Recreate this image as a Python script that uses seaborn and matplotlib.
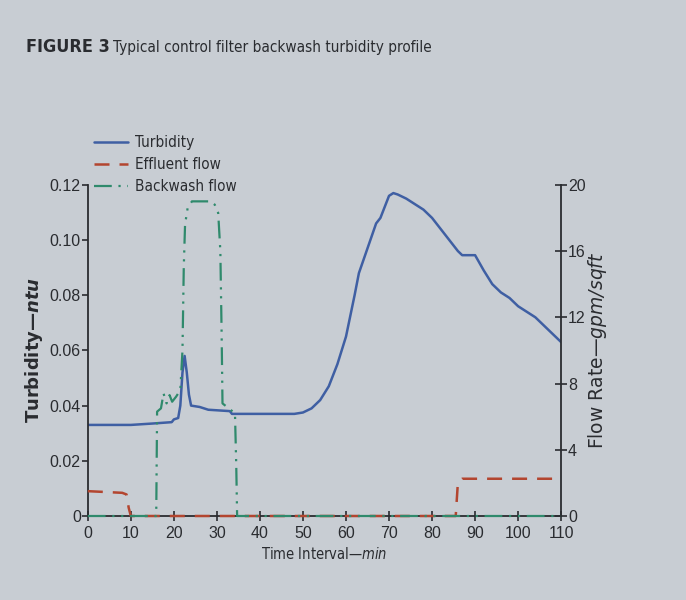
import matplotlib
matplotlib.use("Agg")
import matplotlib.pyplot as plt
import seaborn as sns
import pandas as pd
from matplotlib.lines import Line2D

# turbidity (ntu)
turb_time = [0, 5, 10, 15, 19.5, 20, 21, 21.5, 22, 22.5, 23, 23.5, 24, 26, 27, 28, 33, 33.5,
             40, 48, 50, 52, 54, 56, 58, 60, 62, 63, 65, 67, 68, 69, 70, 71, 72, 74, 76, 78,
             80, 82, 84, 86, 87, 90, 92, 94, 96, 98, 100, 102, 104, 106, 108, 110]
turb_ntu = [0.033, 0.033, 0.033, 0.0335, 0.034, 0.035, 0.0355, 0.040, 0.052, 0.058, 0.052,
            0.044, 0.040, 0.0395, 0.039, 0.0385, 0.038, 0.037, 0.037, 0.037, 0.0375, 0.039,
            0.042, 0.047, 0.055, 0.065, 0.080, 0.088, 0.097, 0.106, 0.108, 0.112, 0.116, 0.117,
            0.1165, 0.115, 0.113, 0.111, 0.108, 0.104, 0.100, 0.096, 0.0945, 0.0945, 0.089,
            0.084, 0.081, 0.079, 0.076, 0.074, 0.072, 0.069, 0.066, 0.063]

# effluent flow (gpm/sqft)
eff_time = [0, 8, 9, 9.5, 10, 85.5, 86, 87, 110]
eff_flow = [1.5, 1.4, 1.3, 0.5, 0, 0, 2.0, 2.25, 2.25]

# backwash flow (gpm/sqft)
bw_time = [0, 15.9, 16.1, 17, 17.6, 18.3, 19, 19.6, 20.5, 21.5, 22, 22.3, 22.6, 23.2, 24.2,
           28.5, 29.5, 30.3, 30.8, 31.1, 31.3, 34.2, 34.5, 34.7, 110]
bw_flow = [0, 0, 6.3, 6.5, 7.4, 6.8, 7.3, 6.9, 7.2, 7.6, 10, 15, 17.6, 18.6, 19,
           19, 18.8, 18.3, 16, 11, 6.8, 6.2, 3, 0, 0]

x_ticks = [0, 10, 20, 30, 40, 50, 60, 70, 80, 90, 100, 110]
left_ticks = [0, 0.02, 0.04, 0.06, 0.08, 0.10, 0.12]
left_labels = ["0", "0.02", "0.04", "0.06", "0.08", "0.10", "0.12"]
right_ticks = [0, 4, 8, 12, 16, 20]

BG = "#c8cdd3"
INK = "#2a2c30"
BLUE = "#3f5fa3"
RED = "#b3452f"
GREEN = "#2f8a6c"

sns.set_theme(style="ticks")
plt.rcParams["font.family"] = ["Liberation Sans", "DejaVu Sans"]
plt.rcParams["mathtext.fontset"] = "custom"
plt.rcParams["mathtext.it"] = "DejaVu Sans:style=italic:stretch=condensed"
plt.rcParams["mathtext.sf"] = "DejaVu Sans:style=italic"
plt.rcParams["mathtext.bfit"] = "DejaVu Sans:style=italic:weight=bold"
plt.rcParams["text.color"] = INK
plt.rcParams["axes.labelcolor"] = INK
plt.rcParams["xtick.color"] = INK
plt.rcParams["ytick.color"] = INK

fig = plt.figure(figsize=(6.86, 6.0), dpi=100, facecolor=BG)
ax = fig.add_axes([0.128, 0.14, 0.69, 0.552])
ax.set_facecolor(BG)
ax2 = ax.twinx()

df_t = pd.DataFrame({"time": turb_time, "value": turb_ntu})
df_e = pd.DataFrame({"time": eff_time, "value": eff_flow})
df_b = pd.DataFrame({"time": bw_time, "value": bw_flow})

sns.lineplot(data=df_t, x="time", y="value", ax=ax, color=BLUE, lw=1.8,
             estimator=None, sort=False, legend=False)
sns.lineplot(data=df_e, x="time", y="value", ax=ax2, color=RED, lw=1.8,
             linestyle=(0, (6, 4)), estimator=None, sort=False, legend=False, clip_on=False)
sns.lineplot(data=df_b, x="time", y="value", ax=ax2, color=GREEN, lw=1.6,
             linestyle=(0, (8, 3, 1, 3, 1, 3)), estimator=None, sort=False, legend=False,
             clip_on=False)

ax.set_xlim(0, 110)
ax.set_ylim(0, 0.12)
ax2.set_ylim(0, 20)
ax.set_xticks(x_ticks)
ax.set_yticks(left_ticks)
ax.set_yticklabels(left_labels)
ax2.set_yticks(right_ticks)

for a in (ax, ax2):
    a.spines["top"].set_visible(False)
    for s in ("left", "right", "bottom"):
        a.spines[s].set_color(INK)
        a.spines[s].set_linewidth(1.3)
ax.spines["right"].set_visible(False)
ax2.spines["left"].set_visible(False)
ax2.spines["bottom"].set_visible(False)

ax.tick_params(axis="x", direction="inout", length=7, width=1.2, labelsize=11.5, pad=4)
ax.tick_params(axis="y", direction="out", length=4, width=1.2, labelsize=11.5, pad=1)
ax2.tick_params(axis="y", direction="inout", length=8, width=1.2, labelsize=11.5, pad=1)

ax.set_xlabel(r"Time Interval—$\mathit{min}$", fontsize=10.5, labelpad=3,
              family="DejaVu Sans", fontstretch="condensed")
ax.set_ylabel(r"Turbidity—$\mathbfit{ntu}$", fontsize=13, fontweight="bold", labelpad=3,
              family="DejaVu Sans")
ax2.set_ylabel(r"Flow Rate—$\mathsf{gpm/sqft}$", fontsize=13.5, labelpad=0,
               family="DejaVu Sans")

handles = [
    Line2D([], [], color=BLUE, lw=1.8),
    Line2D([], [], color=RED, lw=1.8, linestyle=(0, (6, 4))),
    Line2D([], [], color=GREEN, lw=1.6, linestyle=(0, (8, 3, 1, 3, 1, 3))),
]
fig.legend(handles, ["Turbidity", "Effluent flow", "Backwash flow"], loc="upper left",
           bbox_to_anchor=(0.126, 0.787), frameon=False, handlelength=2.2,
           labelspacing=0.45, handletextpad=0.5, borderpad=0,
           prop={"family": "DejaVu Sans", "stretch": "condensed", "size": 11})

fig.text(0.038, 0.913, "FIGURE 3", fontsize=13, fontweight="bold", va="baseline",
         family="DejaVu Sans", fontstretch="condensed")
fig.text(0.165, 0.913, "Typical control filter backwash turbidity profile", fontsize=11,
         va="baseline", family="DejaVu Sans", fontstretch="condensed")

fig.savefig("out.png", dpi=100, facecolor=BG)
